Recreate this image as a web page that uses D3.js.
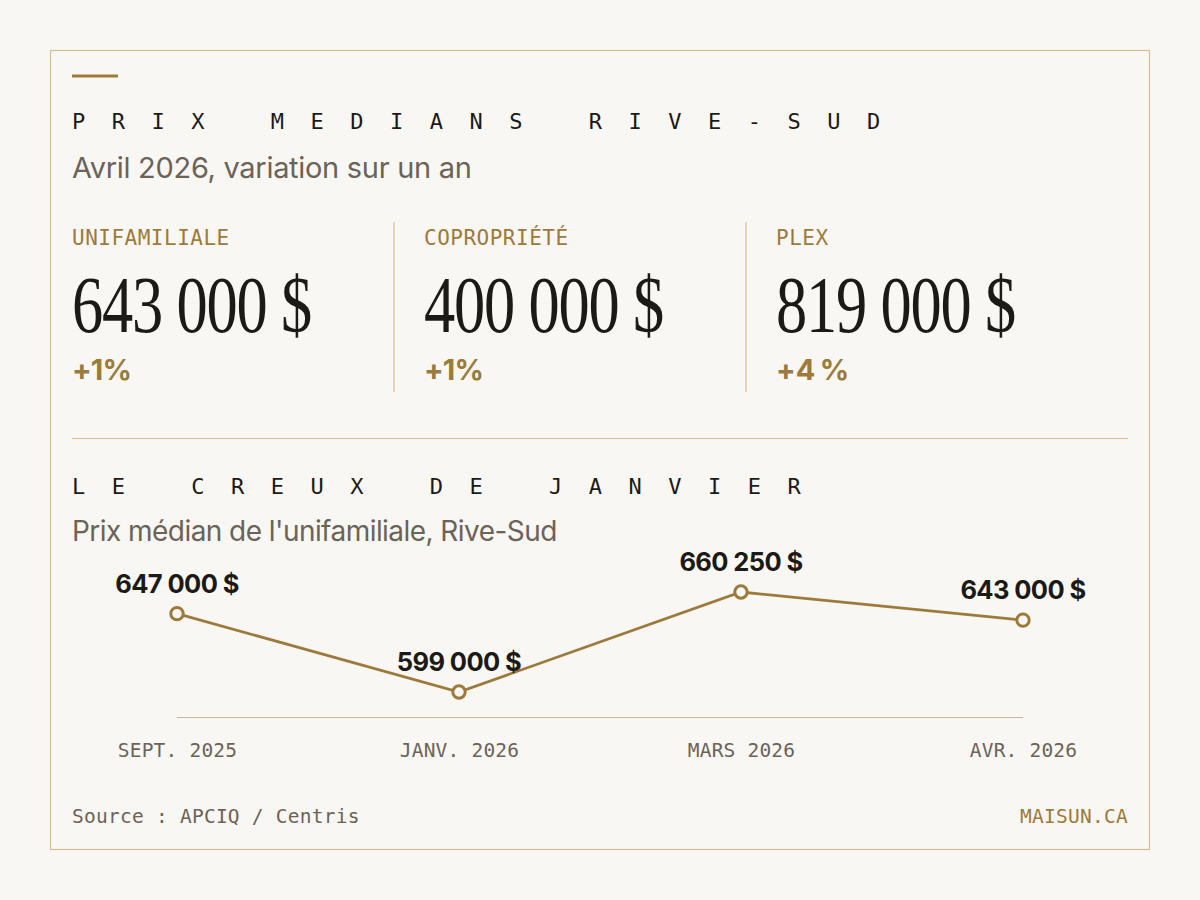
<!DOCTYPE html>
<html><head><meta charset="utf-8">
<script src="https://cdn.jsdelivr.net/npm/d3@7"></script>
<style>
html,body{margin:0;padding:0;background:#f9f7f3;}
svg{display:block;}
</style></head>
<body>
<svg id="c" width="1200" height="900"></svg>
<script>
const kpiLabels = ["UNIFAMILIALE", "COPROPRIÉTÉ", "PLEX"];
const kpiValues = ["643 000 $", "400 000 $", "819 000 $"];
const kpiChanges = ["+1%", "+1%", "+4\u202F%"];
const months = ["SEPT. 2025", "JANV. 2026", "MARS 2026", "AVR. 2026"];
const prices = [647000, 599000, 660250, 643000];
const priceLabels = ["647 000 $", "599 000 $", "660 250 $", "643 000 $"];

const gold = "#9c7a3c", tan = "#d2be93", ink = "#1c1a16", grey = "#6b6358", bg = "#f9f7f3";
const mono = "'DejaVu Sans Mono', monospace";
const sans = "Inter, 'Noto Sans', sans-serif";
const serif = "'Liberation Serif', 'DejaVu Serif', serif";

const svg = d3.select("#c");
svg.append("rect").attr("width",1200).attr("height",900).attr("fill",bg);
svg.append("rect").attr("x",50.5).attr("y",50.5).attr("width",1099).attr("height",799)
  .attr("fill","none").attr("stroke",tan).attr("stroke-width",1.2);
svg.append("rect").attr("x",72).attr("y",74.5).attr("width",46).attr("height",3).attr("fill",gold);

function spacedTitle(txt, y){
  svg.append("text").attr("x",72).attr("y",y).attr("font-family",mono).attr("font-size",22)
    .attr("letter-spacing",26.5).attr("fill",ink).text(txt);
}
spacedTitle("PRIX MEDIANS RIVE-SUD",129);
svg.append("text").attr("x",72).attr("y",178).attr("font-family",sans).attr("font-size",29)
  .attr("letter-spacing",-0.3).attr("fill",grey).text("Avril 2026, variation sur un an");

// KPI columns
const colX = d3.scaleBand().domain(d3.range(kpiLabels.length)).range([72, 72+352*3]);
kpiLabels.forEach((lab,i)=>{
  const x = colX(i);
  if(i>0) svg.append("line").attr("x1",x-30).attr("x2",x-30).attr("y1",222).attr("y2",392)
    .attr("stroke",tan).attr("stroke-width",1.2);
  svg.append("text").attr("x",x).attr("y",245).attr("font-family",mono).attr("font-size",21)
    .attr("letter-spacing",0.5).attr("fill",gold).text(lab);
  svg.append("text").attr("transform",`translate(${x},332) scale(0.78,1)`)
    .attr("font-family",serif).attr("font-size",80).attr("letter-spacing",-1.5).attr("fill",ink).text(kpiValues[i]);
  svg.append("text").attr("x",x).attr("y",380).attr("font-family",sans).attr("font-weight",700)
    .attr("font-size",29).attr("letter-spacing",-0.9).attr("fill",gold).text(kpiChanges[i]);
});

svg.append("line").attr("x1",72).attr("x2",1128).attr("y1",438.5).attr("y2",438.5)
  .attr("stroke",tan).attr("stroke-width",1.2);

spacedTitle("LE CREUX DE JANVIER",494);
svg.append("text").attr("x",72).attr("y",541).attr("font-family",sans).attr("font-size",28)
  .attr("letter-spacing",-0.55).attr("fill",grey).text("Prix médian de l'unifamiliale, Rive-Sud");

// Line chart
const x = d3.scalePoint().domain(months).range([177,1023]);
const y = d3.scaleLinear().domain([599000,660250]).range([692,592]);
svg.append("line").attr("x1",177).attr("x2",1023).attr("y1",717.5).attr("y2",717.5)
  .attr("stroke","#c9b995").attr("stroke-width",1.2);
const data = months.map((m,i)=>({m, v:prices[i], l:priceLabels[i]}));
svg.append("path").datum(data).attr("fill","none").attr("stroke",gold).attr("stroke-width",2.8)
  .attr("d", d3.line().x(d=>x(d.m)).y(d=>y(d.v)));
svg.selectAll("circle.pt").data(data).join("circle").attr("class","pt")
  .attr("cx",d=>x(d.m)).attr("cy",d=>y(d.v)).attr("r",6.2)
  .attr("fill",bg).attr("stroke",gold).attr("stroke-width",3);
svg.selectAll("text.vl").data(data).join("text").attr("class","vl")
  .attr("x",d=>x(d.m)).attr("y",d=>y(d.v)-21).attr("text-anchor","middle")
  .attr("font-family",sans).attr("font-weight",700).attr("font-size",25.5).attr("letter-spacing",-0.6)
  .attr("fill",ink).text(d=>d.l);
const xAxis = svg.append("g").attr("transform","translate(0,717)")
  .call(d3.axisBottom(x).tickSize(0).tickPadding(40));
xAxis.select(".domain").remove();
xAxis.selectAll("text").attr("font-family",mono).attr("font-size",19.5).attr("letter-spacing",0.2)
  .attr("fill",grey).attr("dy",0).attr("y",40);

// Footer
svg.append("text").attr("x",72).attr("y",823).attr("font-family",mono).attr("font-size",19.5)
  .attr("letter-spacing",0.25).attr("fill",grey).text("Source : APCIQ / Centris");
svg.append("text").attr("x",1128).attr("y",823).attr("text-anchor","end").attr("font-family",mono)
  .attr("font-size",19.5).attr("letter-spacing",0.25).attr("fill",gold).text("MAISUN.CA");
</script>
</body></html>
